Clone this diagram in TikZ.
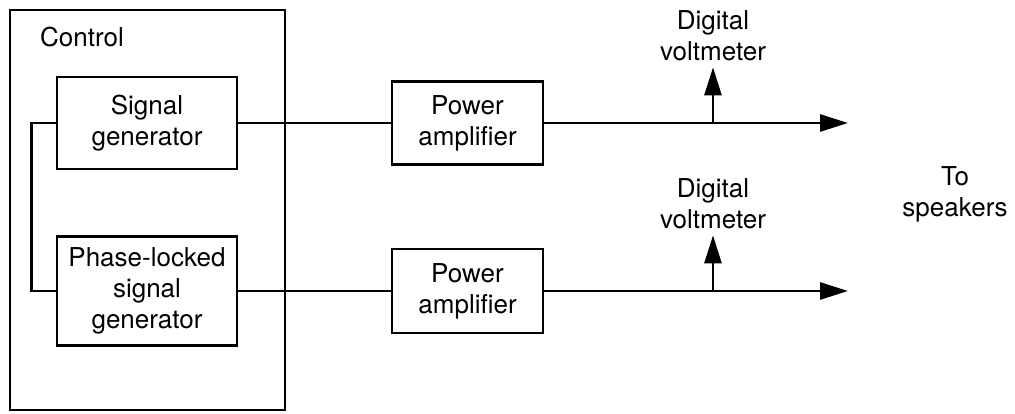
\documentclass[tikz,border=0pt]{standalone}
\usepackage{fontspec}
\setmainfont{TeX Gyre Heros}
\usepackage{tikz}
\usetikzlibrary{arrows.meta,positioning,calc}

\tikzset{
  blk/.style={draw,line width=2.7pt,inner sep=0pt,align=center,font=\fontsize{26}{31}\selectfont},
  lbl/.style={inner sep=0pt,align=center,font=\fontsize{26}{31}\selectfont},
  wire/.style={line width=2.7pt},
  sig/.style={wire,-{Triangle[length=28pt,width=17pt]}},
}

\begin{document}
\begin{tikzpicture}[x=1pt,y=-1pt]
  \useasboundingbox (0,0) rectangle (1015,413);
  \def\yA{123}   % upper channel
  \def\yB{291}   % lower channel
  \def\xEnd{848} % arrow tips toward the speakers
  \def\xDvm{713} % voltmeter taps
  \node[blk,minimum width=275pt,minimum height=400pt] (ctrl) at (147.5,210) {}; % control rack
  \node[lbl,anchor=west] (ctrltxt) at (40,37) {Control};
  \node[blk,minimum width=180pt,minimum height=92pt] (sg) at (147,\yA) {Signal\\generator};
  \node[blk,minimum width=180pt,minimum height=109pt] (pl) at (147,\yB) {Phase-locked\\signal\\generator};
  \node[blk,minimum width=151pt,minimum height=83pt] (pa1) at (467.5,\yA) {Power\\amplifier};
  \node[blk,minimum width=151pt,minimum height=84pt] (pa2) at (467.5,\yB) {Power\\amplifier};
  \coordinate (out1) at (\xEnd,\yA);
  \coordinate (out2) at (\xEnd,\yB);
  \coordinate (tap1) at (\xDvm,\yA);
  \coordinate (tap2) at (\xDvm,\yB);
  \node[lbl] (dvm1) at (\xDvm,36) {Digital\\voltmeter};
  \node[lbl] (dvm2) at (\xDvm,204) {Digital\\voltmeter};
  \node[lbl] (spk) at (955,194) {To\\speakers};
  \draw[wire] (sg.west) -- ++(-24,0) |- (pl.west); % reference link
  \draw[wire] (sg.east) -- (pa1.west);
  \draw[wire] (pl.east) -- (pa2.west);
  \draw[sig] (pa1.east) -- (out1);
  \draw[sig] (pa2.east) -- (out2);
  \draw[sig,shorten >=6pt] (tap1) -- (dvm1.south);
  \draw[sig,shorten >=6pt] (tap2) -- (dvm2.south);
\end{tikzpicture}
\end{document}
